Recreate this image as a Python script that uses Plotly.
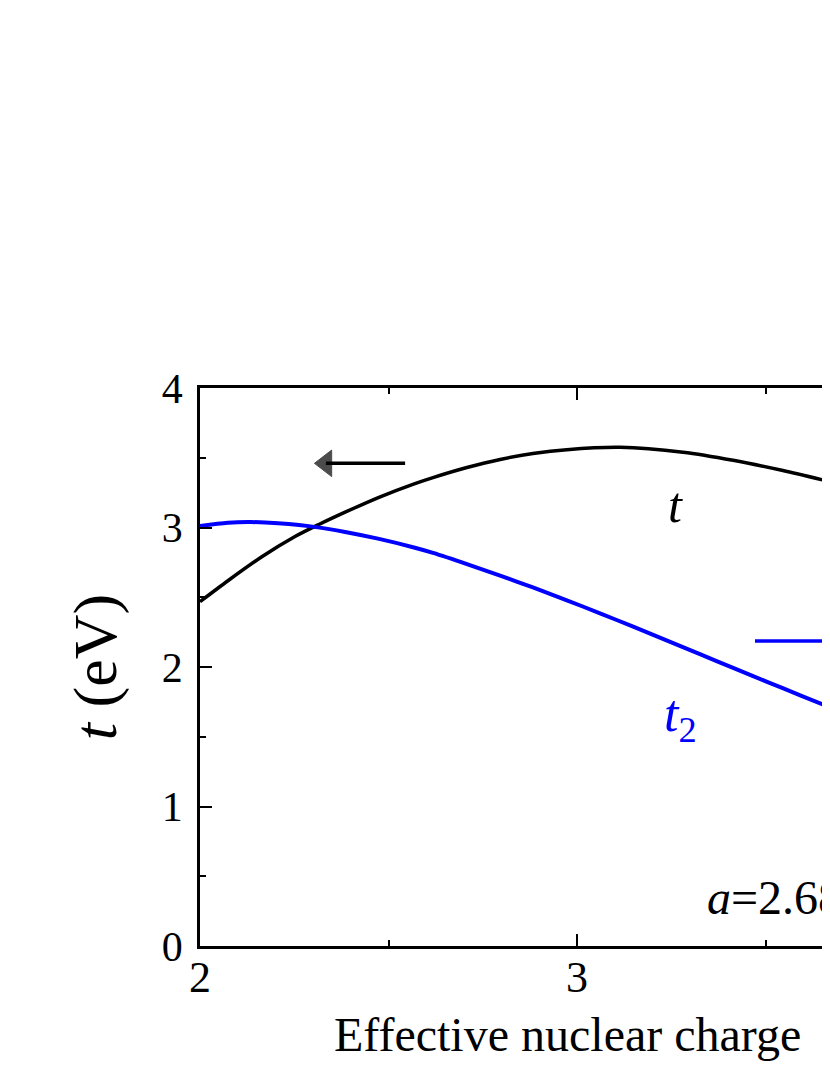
import plotly.graph_objects as go

# effective nuclear charge Z and hopping t (left axis)
z_t = [2.000, 2.075, 2.164, 2.252, 2.314, 2.385, 2.473, 2.570, 2.618, 2.708,
       2.796, 2.883, 2.973, 3.114, 3.281, 3.414, 3.546, 3.671]
t_ev = [2.468, 2.620, 2.790, 2.935, 3.020, 3.110, 3.215, 3.315, 3.358, 3.430,
        3.488, 3.530, 3.558, 3.575, 3.540, 3.482, 3.408, 3.328]

# t2 (drawn against the right-hand scale, shown here in left-axis units)
z_t2 = [2.000, 2.074, 2.133, 2.207, 2.313, 2.385, 2.472, 2.570, 2.618, 2.708, 2.796,
        2.883, 2.973, 3.061, 3.149, 3.239, 3.326, 3.414, 3.504, 3.592, 3.671]
t2_ev = [3.011, 3.034, 3.039, 3.030, 3.001, 2.968, 2.920, 2.855, 2.818, 2.738, 2.655,
         2.570, 2.478, 2.385, 2.289, 2.189, 2.092, 1.994, 1.894, 1.797, 1.710]

x_ticks = [2, 3]
y_ticks = [0, 1, 2, 3, 4]

# arrows pointing at each curve's axis: (tail, head, level)
arrow_t = (2.544, 2.334, 3.46)
arrow_t2 = (3.472, 3.700, 2.186)

SERIF = "Liberation Serif, Times New Roman, serif"
BLUE = "#0000ff"

fig = go.Figure()
fig.add_trace(
    go.Scatter(
        x=z_t, y=t_ev, mode="lines",
        line={"color": "black", "width": 3.5, "shape": "spline", "smoothing": 0.8},
        showlegend=False, hoverinfo="skip",
    )
)
fig.add_trace(
    go.Scatter(
        x=z_t2, y=t2_ev, mode="lines",
        line={"color": BLUE, "width": 4, "shape": "spline", "smoothing": 0.8},
        showlegend=False, hoverinfo="skip",
    )
)

for (tail, head, level), color, symbol in [
    (arrow_t, "black", "triangle-left"),
    (arrow_t2, BLUE, "triangle-right"),
]:
    fig.add_trace(
        go.Scatter(
            x=[tail, head], y=[level, level], mode="lines+markers",
            line={"color": color, "width": 3.5},
            marker={"color": color, "size": [0, 23], "symbol": symbol,
                    "line": {"color": color, "width": 1}},
            showlegend=False, hoverinfo="skip",
        )
    )

axis_style = dict(
    showline=True,
    linecolor="black",
    linewidth=2.5,
    ticks="inside",
    ticklen=12,
    tickwidth=2,
    tickcolor="black",
    showgrid=False,
    zeroline=False,
    minor={"ticks": "inside", "ticklen": 6, "tickwidth": 2, "tickcolor": "black", "dtick": 0.5},
)

fig.update_xaxes(
    range=[2, 3.671],
    tickvals=x_ticks,
    mirror="ticks",
    ticklabelstandoff=-10,
    tickfont={"family": SERIF, "size": 44, "color": "black"},
    **axis_style,
)
fig.update_yaxes(
    range=[0, 4],
    tickvals=y_ticks,
    mirror=False,
    ticklabelstandoff=6,
    tickfont={"family": SERIF, "size": 42, "color": "black"},
    title={"text": "<i>t</i> (eV)", "font": {"family": SERIF, "size": 62, "color": "black"}, "standoff": 26},
    **axis_style,
)

fig.add_annotation(
    x=3.262, y=3.16, text="<i>t</i>", showarrow=False,
    font={"family": SERIF, "size": 50, "color": "black"},
)
fig.add_annotation(
    x=3.275, y=1.64, text="<i>t</i><sub>2</sub>", showarrow=False,
    font={"family": SERIF, "size": 52, "color": BLUE},
)
fig.add_annotation(
    x=3.34, y=0.35, text="<i>a</i>=2.68 Å", showarrow=False, xanchor="left",
    font={"family": SERIF, "size": 48, "color": "black"},
)
fig.add_annotation(
    x=0.2095, y=-0.165, xref="paper", yref="paper", xanchor="left", yanchor="middle",
    text="Effective nuclear charge  <i>Z</i><sub>eff</sub>", showarrow=False,
    font={"family": SERIF, "size": 48, "color": "black"},
)

# the page adds an 8px body margin, so the figure is 8px smaller than the window
fig.update_layout(
    width=822,
    height=1067,
    margin={"l": 192, "r": 0, "t": 380, "b": 129},
    plot_bgcolor="white",
    paper_bgcolor="white",
)

fig.write_html("out.html")
